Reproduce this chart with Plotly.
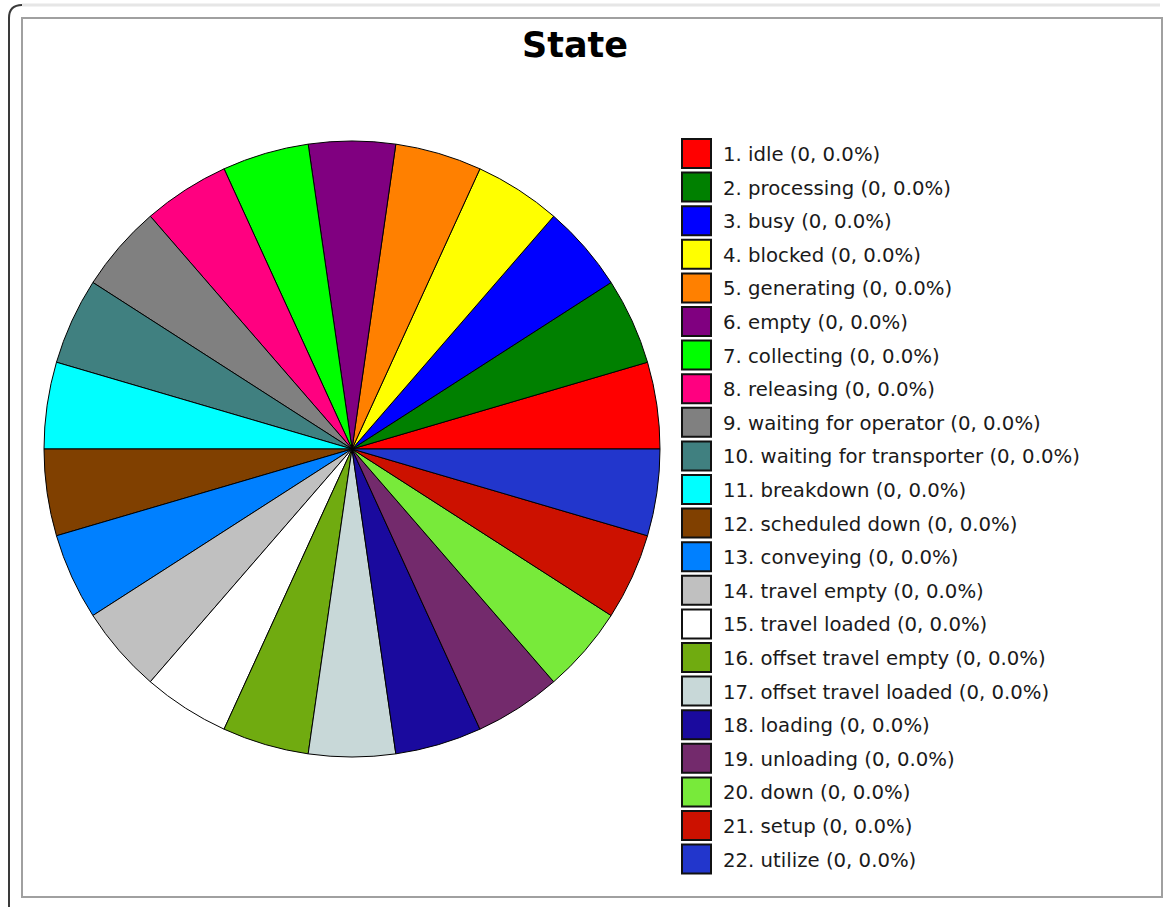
import plotly.graph_objects as go

# State categories, their recorded counts and shares
states = [
    "idle", "processing", "busy", "blocked", "generating", "empty",
    "collecting", "releasing", "waiting for operator", "waiting for transporter",
    "breakdown", "scheduled down", "conveying", "travel empty", "travel loaded",
    "offset travel empty", "offset travel loaded", "loading", "unloading",
    "down", "setup", "utilize",
]
counts = [0] * 22
percents = [0.0] * 22

# With every count at zero, each state is given an equal share of the circle
slice_weights = [1] * 22

colors = [
    "#ff0000", "#008000", "#0000ff", "#ffff00", "#ff8000", "#800080",
    "#00ff00", "#ff0080", "#808080", "#408080", "#00ffff", "#804000",
    "#0080ff", "#c0c0c0", "#ffffff", "#70ab10", "#c8d8d8", "#1a0a9e",
    "#732a6c", "#78ea3a", "#cc1100", "#2236cc",
]

labels = [f"{i + 1}. {s} ({c}, {p:.1f}%)" for i, (s, c, p) in enumerate(zip(states, counts, percents))]

W, H = 1174, 907

# First slice sits just above 3 o'clock, slices run counterclockwise
slice_angle = 360 / len(slice_weights)

fig = go.Figure()
fig.add_trace(go.Pie(
    labels=labels,
    values=slice_weights,
    marker=dict(colors=colors, line=dict(color="#000000", width=1)),
    sort=False,
    direction="counterclockwise",
    rotation=90 - slice_angle,
    textinfo="none",
    hoverinfo="label",
    showlegend=False,
    domain=dict(x=[44 / W, 660 / W], y=[1 - 757 / H, 1 - 141 / H]),
))

shapes = []
annotations = []

# Legend: swatch boxes with labels, one row per state
sw_x0, sw_size, row_top0, row_step = 682, 29, 139, 33.6
for i, (lab, col) in enumerate(zip(labels, colors)):
    top = row_top0 + i * row_step
    shapes.append(dict(
        type="rect", xref="paper", yref="paper",
        x0=sw_x0 / W, x1=(sw_x0 + sw_size) / W,
        y0=1 - (top + sw_size) / H, y1=1 - top / H,
        fillcolor=col, line=dict(color="#111111", width=2),
    ))
    annotations.append(dict(
        x=721 / W, y=1 - (top + sw_size / 2 + 1) / H, xref="paper", yref="paper",
        text=lab, showarrow=False, xanchor="left", yanchor="middle",
        font=dict(family="DejaVu Sans", size=19.7, color="#1a1a1a"),
    ))

# Panel frame
shapes.append(dict(
    type="rect", xref="paper", yref="paper",
    x0=22 / W, x1=1162 / W, y0=1 - 897 / H, y1=1 - 18 / H,
    line=dict(color="#a0a0a0", width=2), fillcolor="rgba(0,0,0,0)",
))
# Outer window edge
shapes.append(dict(
    type="path", xref="paper", yref="paper",
    path=f"M {9 / W} {1 - 907 / H} L {9 / W} {1 - 18 / H} Q {9 / W} {1 - 5 / H} {22 / W} {1 - 5 / H}",
    line=dict(color="#3a3a3a", width=2),
))
shapes.append(dict(
    type="line", xref="paper", yref="paper",
    x0=22 / W, x1=1160 / W, y0=1 - 5 / H, y1=1 - 5 / H,
    line=dict(color="#e6e6e6", width=3),
))

annotations.append(dict(
    x=575 / W, y=1 - 45 / H, xref="paper", yref="paper",
    text="<b>State</b>", showarrow=False, xanchor="center", yanchor="middle",
    font=dict(family="DejaVu Sans", size=35, color="#000000"),
))

fig.update_layout(
    width=W, height=H,
    margin=dict(l=0, r=0, t=0, b=0),
    paper_bgcolor="#ffffff",
    plot_bgcolor="#ffffff",
    shapes=shapes,
    annotations=annotations,
)

fig.write_html("out.html", config={"displayModeBar": False})
